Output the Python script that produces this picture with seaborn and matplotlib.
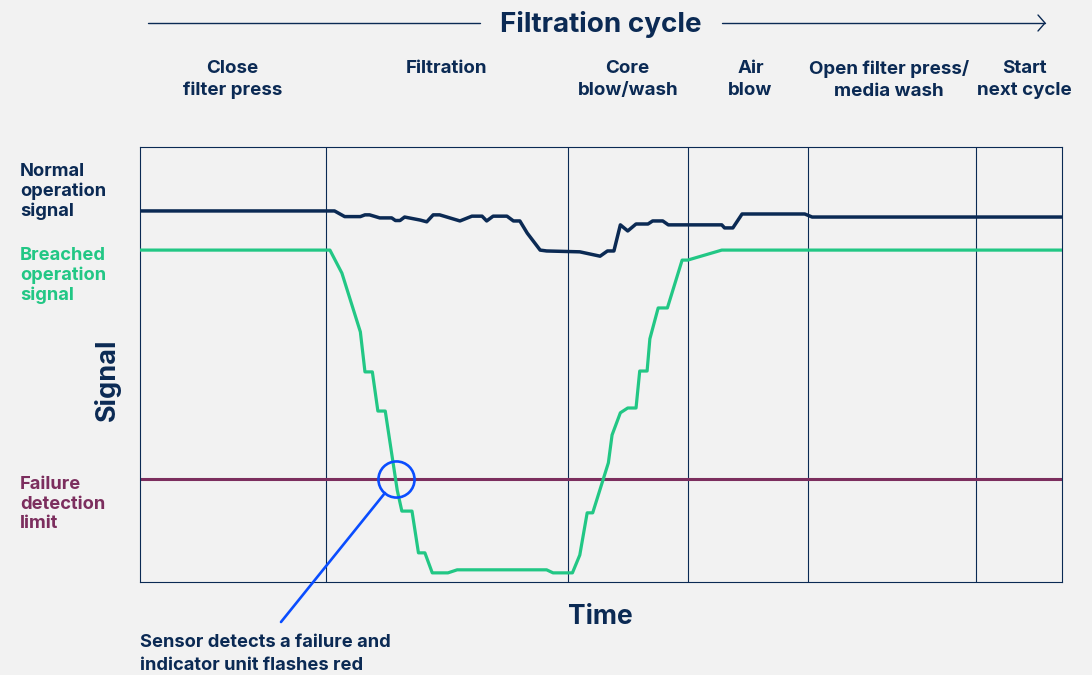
import numpy as np
import pandas as pd
import matplotlib.pyplot as plt
import seaborn as sns

# time axis 0-100, signal axis 0-100 (arbitrary units)
normal_time = [0, 20.6, 21.1, 22.2, 23.9, 24.4, 24.9, 26.0, 27.3, 27.7, 28.2, 28.7,
               30.4, 31.1, 31.8, 32.5, 34.7, 36.0, 37.1, 37.6, 38.3, 39.8, 40.5, 41.2,
               42.0, 43.4, 44.1, 47.7, 49.9, 50.7, 51.4, 52.1, 52.9, 53.8, 55.1, 55.6,
               56.7, 57.3, 63.1, 63.4, 64.3, 65.3, 68.3, 72.1, 72.9, 100]
normal_signal = [85.3, 85.3, 85.3, 84.0, 84.0, 84.4, 84.4, 83.7, 83.7, 83.1, 83.1, 83.9,
                 83.2, 82.8, 84.4, 84.4, 83.0, 84.1, 84.1, 83.0, 84.1, 84.1, 83.0, 83.0,
                 80.2, 76.3, 76.1, 75.9, 74.9, 76.1, 76.1, 82.1, 80.7, 82.3, 82.3, 83.0,
                 83.0, 82.1, 82.1, 81.4, 81.4, 84.6, 84.6, 84.6, 83.9, 83.9]

breach_time = [0, 20.6, 21.9, 23.9, 24.4, 25.2, 25.8, 26.6, 27.9, 28.4, 29.5, 30.2,
               30.9, 31.7, 33.4, 34.4, 43.4, 44.1, 44.8, 46.9, 47.7, 48.5, 49.1, 50.8,
               51.2, 52.1, 52.9, 53.8, 54.2, 55.0, 55.3, 56.2, 57.2, 58.8, 59.4, 63.1, 100]
breach_signal = [76.3, 76.3, 71.0, 57.5, 48.3, 48.3, 39.3, 39.3, 21.1, 16.3, 16.3, 6.7,
                 6.7, 2.1, 2.1, 2.8, 2.8, 2.8, 2.1, 2.1, 6.2, 15.9, 15.9, 27.4,
                 33.8, 38.9, 40.0, 40.0, 48.5, 48.5, 55.9, 63.0, 63.0, 74.0, 74.0, 76.3, 76.3]

failure_limit = 23.7
detect_time = 27.8

phase_bounds = [20.2, 46.4, 59.4, 72.5, 90.7]
phase_labels = ['Close\nfilter press', 'Filtration', 'Core\nblow/wash', 'Air\nblow',
                'Open filter press/\nmedia wash', 'Start\nnext cycle']
phase_centers = [10.0, 33.2, 52.9, 66.2, 81.2, 95.9]

navy = '#0b2a54'
green = '#22c785'
maroon = '#7c2e5e'
blue = '#0a4dff'
bg = '#f2f2f2'

sns.set_theme(style='white', rc={'figure.facecolor': bg, 'axes.facecolor': bg})
plt.rcParams['font.family'] = ['Inter', 'DejaVu Sans']

normal_df = pd.DataFrame({'time': normal_time, 'signal': normal_signal})
breach_df = pd.DataFrame({'time': breach_time, 'signal': breach_signal})

fig = plt.figure(figsize=(10.92, 6.75), dpi=100)
ax = fig.add_axes([140 / 1092, 93 / 675, 922 / 1092, 435 / 675])

for b in phase_bounds:
    ax.axvline(b, color=navy, lw=0.8, zorder=1)
ax.axhline(failure_limit, color=maroon, lw=2.2, zorder=2)

sns.lineplot(data=normal_df, x='time', y='signal', color=navy, lw=2.5,
             estimator=None, sort=False, ax=ax, zorder=3)
sns.lineplot(data=breach_df, x='time', y='signal', color=green, lw=2.3,
             estimator=None, sort=False, ax=ax, zorder=3)

# detection marker
ax.plot([detect_time], [failure_limit], marker='o', ms=26, mfc='none', mec=blue,
        mew=1.9, zorder=4)
ax.annotate('', xy=(detect_time, failure_limit), xycoords='data',
            xytext=(281 / 1092, 1 - 622 / 675), textcoords='figure fraction',
            arrowprops=dict(arrowstyle='-', color=blue, lw=1.9, shrinkA=0, shrinkB=13))

ax.set_xlim(0, 100)
ax.set_ylim(0, 100)
ax.set_xticks([])
ax.set_yticks([])
for sp in ax.spines.values():
    sp.set_color(navy)
    sp.set_linewidth(0.8)

ax.set_xlabel('Time', fontsize=19, fontweight='bold', color=navy)
ax.xaxis.set_label_coords(0.499, -0.05)
ax.set_ylabel('Signal', fontsize=19.5, fontweight='bold', color=navy)
ax.yaxis.set_label_coords(-0.021, 0.464)

# header
fig.text(601 / 1092, 1 - 25 / 675, 'Filtration cycle', fontsize=20, fontweight='bold',
         color=navy, ha='center', va='center')
fig.add_artist(plt.Line2D([148 / 1092, 480 / 1092], [1 - 23 / 675] * 2, color=navy, lw=1.0))
fig.add_artist(plt.Line2D([722 / 1092, 1045 / 1092], [1 - 23 / 675] * 2, color=navy, lw=1.0))
fig.add_artist(plt.Line2D([1038 / 1092, 1045 / 1092, 1038 / 1092],
                          [1 - 15 / 675, 1 - 23 / 675, 1 - 31 / 675], color=navy, lw=1.0))

for label, c in zip(phase_labels, phase_centers):
    fig.text((140 + c * 9.22) / 1092, 1 - 60 / 675, label, fontsize=13.5, fontweight='bold',
             color=navy, ha='center', va='top', linespacing=1.36)

side = [('Normal\noperation\nsignal', navy, 163),
        ('Breached\noperation\nsignal', green, 247),
        ('Failure\ndetection\nlimit', maroon, 476)]
for text, col, ytop in side:
    fig.text(20 / 1092, 1 - ytop / 675, text, fontsize=13.2, fontweight='bold', color=col,
             ha='left', va='top', linespacing=1.2)

fig.text(140 / 1092, 1 - 634 / 675, 'Sensor detects a failure and\nindicator unit flashes red',
         fontsize=13.2, fontweight='bold', color=navy, ha='left', va='top', linespacing=1.5)

fig.savefig('out.png', dpi=100, facecolor=bg)
